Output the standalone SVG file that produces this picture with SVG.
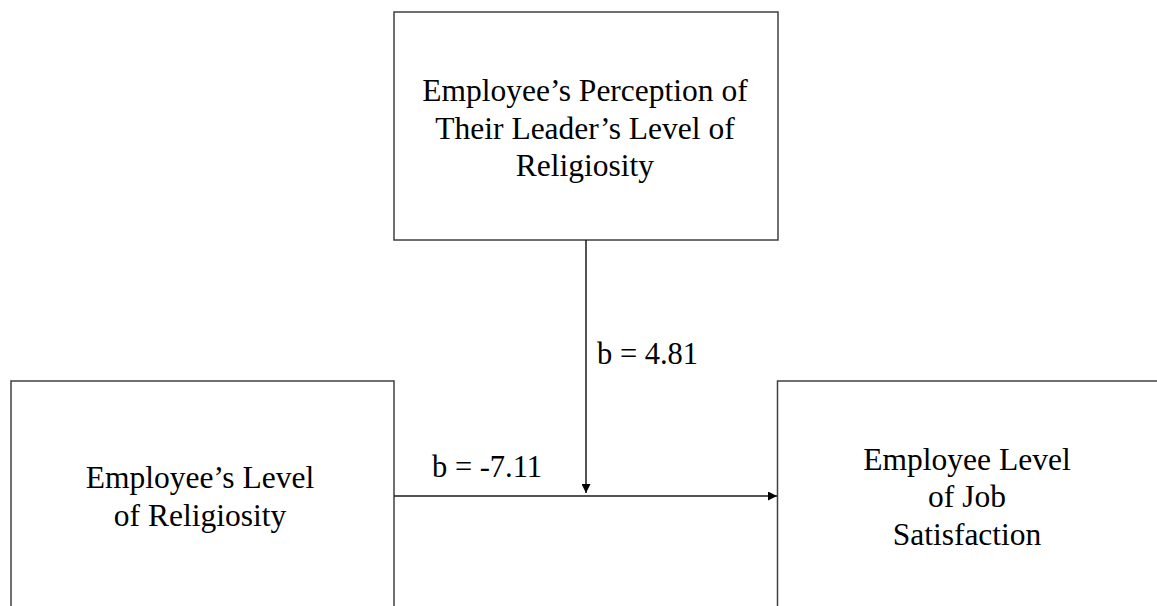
<svg xmlns="http://www.w3.org/2000/svg" width="1157" height="606" viewBox="0 0 1157 606">
  <style>
    .box { fill: #ffffff; stroke: #404040; stroke-width: 1.5; }
    .lbl { font-family: "Liberation Serif", "Times New Roman", serif; font-size: 31.5px; fill: #000000; text-anchor: middle; }
    .coef { font-family: "Liberation Serif", "Times New Roman", serif; font-size: 30.5px; fill: #000000; }
    .edge { stroke: #1a1a1a; stroke-width: 1.5; fill: none; }
  </style>
  <defs>
    <marker id="arrow" viewBox="0 0 10 10" refX="10" refY="5" markerUnits="userSpaceOnUse" markerWidth="10" markerHeight="9" orient="auto">
      <path d="M0,0 L10,5 L0,10 Z" fill="#000000"/>
    </marker>
  </defs>
  <rect width="1157" height="606" fill="#ffffff"/>

  <g id="node-leader">
    <rect class="box" x="394" y="12" width="384" height="228"/>
    <text class="lbl" x="585" y="101">Employee’s Perception of</text>
    <text class="lbl" x="585" y="139">Their Leader’s Level of</text>
    <text class="lbl" x="585" y="176">Religiosity</text>
  </g>

  <g id="node-employee">
    <rect class="box" x="11" y="381" width="383" height="240"/>
    <text class="lbl" x="200" y="488">Employee’s Level</text>
    <text class="lbl" x="200" y="526">of Religiosity</text>
  </g>

  <g id="node-satisfaction">
    <rect class="box" x="777.5" y="381" width="400" height="240"/>
    <text class="lbl" x="967" y="470">Employee Level</text>
    <text class="lbl" x="967" y="507">of Job</text>
    <text class="lbl" x="967" y="545">Satisfaction</text>
  </g>

  <g id="connectors">
    <line class="edge" x1="394" y1="496" x2="777" y2="496" marker-end="url(#arrow)"/>
    <line class="edge" x1="586" y1="240" x2="586" y2="493" marker-end="url(#arrow)"/>
    <text class="coef" x="597" y="364">b = 4.81</text>
    <text class="coef" x="432" y="477">b = -7.11</text>
  </g>
</svg>
